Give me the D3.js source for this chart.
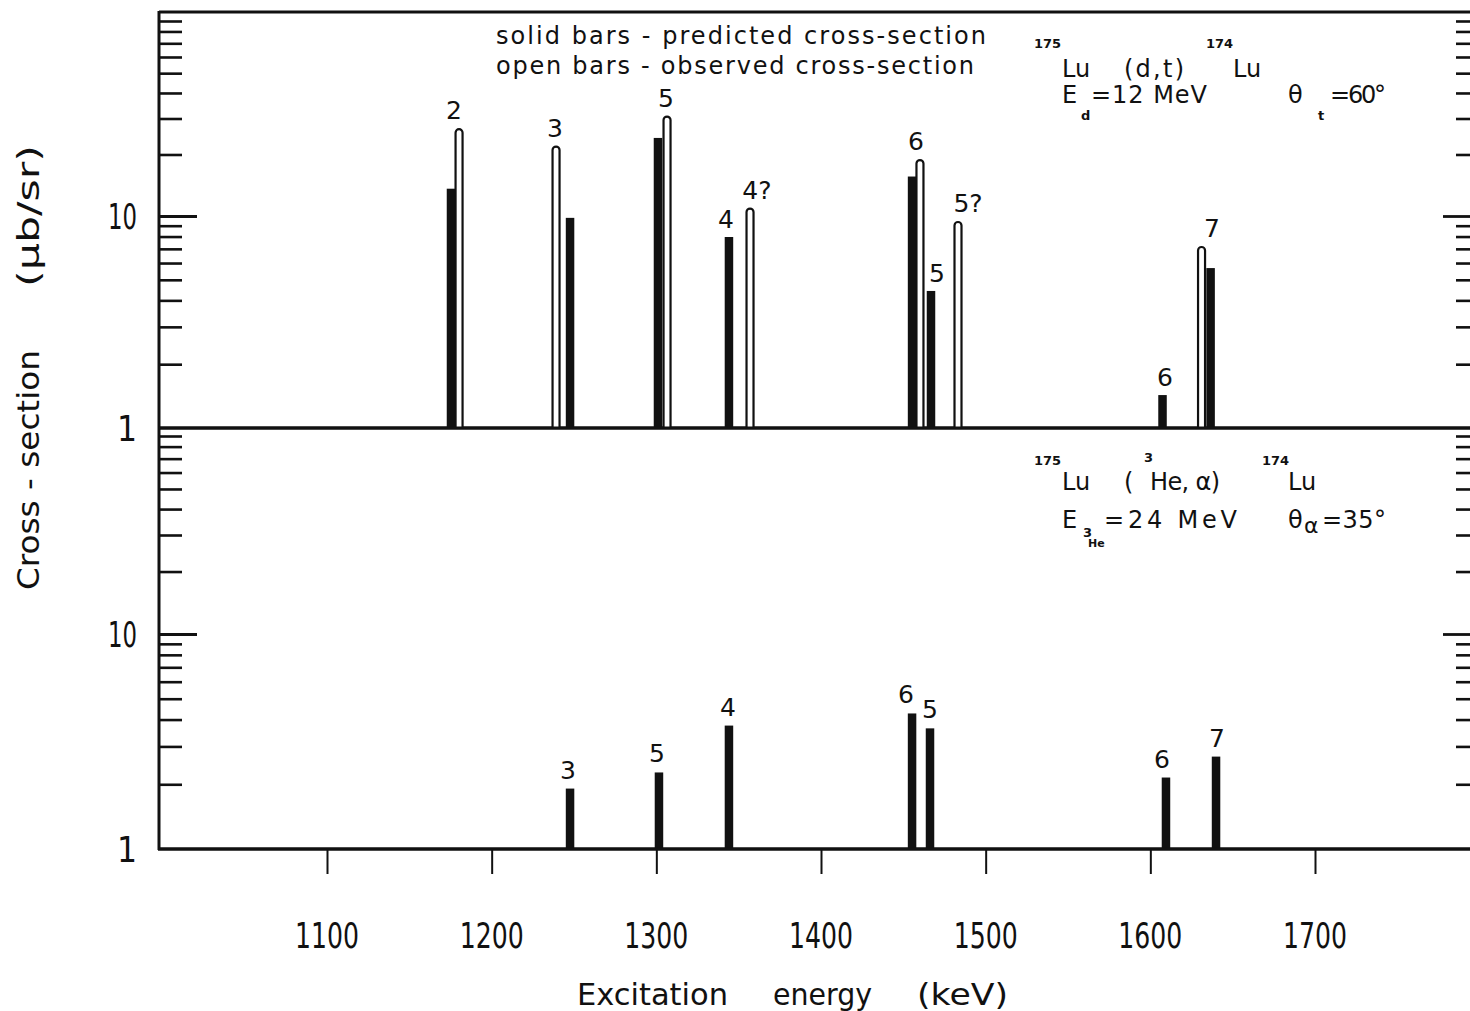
<!DOCTYPE html>
<html><head><meta charset="utf-8">
<script src="https://cdn.jsdelivr.net/npm/d3@7"></script>
<style>body{margin:0;background:#fff}svg{display:block}</style></head>
<body><svg id="c" width="1470" height="1011"></svg>
<script>
// ---------- data ----------
const xTickValues = [1100, 1200, 1300, 1400, 1500, 1600, 1700];
const xTickLabels = ["1100", "1200", "1300", "1400", "1500", "1600", "1700"];
const minorY = [2, 3, 4, 5, 6, 7, 8, 9, 20, 30, 40, 50, 60, 70, 80, 90];
const majorY = [1, 10];
const yTickLabels = ["1", "10"];

// upper panel 175Lu(d,t)174Lu : solid = predicted, open = observed
const predTopE = [1175.3, 1247.6, 1301.0, 1344.1, 1455.3, 1466.8, 1607.4, 1636.6];
const predTopV = [13.6, 9.8, 24.1, 7.96, 15.6, 4.43, 1.43, 5.68];
const obsTopE  = [1180.2, 1239.1, 1306.5, 1356.9, 1460.1, 1483.2, 1631.1];
const obsTopV  = [26.9, 22.1, 31.0, 11.0, 19.0, 9.47, 7.22];
const labTopText = ["2", "3", "5", "4", "4?", "6", "5", "5?", "6", "7"];
const labTopE    = [1177.1, 1238.5, 1305.9, 1342.3, 1361.1, 1457.7, 1470.4, 1489.3, 1608.9, 1637.4];
const labTopV    = [26.9, 22.1, 31.0, 7.96, 11.0, 19.0, 4.43, 9.47, 1.43, 7.22];

// lower panel 175Lu(3He,alpha)174Lu : predicted
const predBotE = [1247.6, 1301.6, 1344.1, 1455.3, 1466.2, 1609.5, 1639.9];
const predBotV = [1.91, 2.27, 3.75, 4.27, 3.64, 2.15, 2.69];
const labBotText = ["3", "5", "4", "6", "5", "6", "7"];
const labBotE    = [1246.4, 1300.4, 1343.5, 1451.6, 1466.2, 1607.1, 1640.5];
const labBotV    = [1.91, 2.27, 3.75, 4.27, 3.64, 2.15, 2.69];

// ---------- layout ----------
const svg = d3.select("#c");
svg.append("rect").attr("width", 1470).attr("height", 1011).attr("fill", "#fff");
const L = 159, R = 1470, T = 12, M = 428, B = 849;
const ink = "#111";
const FONT = "'DejaVu Sans', sans-serif";
const NARROW = "'Liberation Sans Narrow', 'DejaVu Sans Condensed', 'Liberation Sans', sans-serif";

const x = d3.scaleLinear().domain([1100, 1700]).range([327, 1315]);
const yTop = d3.scaleLog().domain([1, 10, 90]).range([M, 216, 21]);
const yBot = d3.scaleLog().domain([1, 10, 90]).range([B, 634, 436]);

// frame
const g = svg.append("g");
g.append("path").attr("d", `M${L},${T}H${R+2}M${L},${T-1}V${B+1}M${L},${M}H${R+2}M${L-1},${B}H${R+2}`)
  .attr("stroke", ink).attr("stroke-width", 3).attr("fill", "none");

// y axes (left and right tick marks) via d3 axes
function yAxes(scale) {
  const left = d3.axisRight(scale).tickValues(minorY).tickSize(23).tickFormat("");
  g.append("g").attr("transform", `translate(${L},0)`).call(left)
    .call(s => s.select(".domain").remove())
    .selectAll("line").attr("stroke", ink).attr("stroke-width", 2.6);
  const leftMaj = d3.axisRight(scale).tickValues([10]).tickSize(38).tickFormat("");
  g.append("g").attr("transform", `translate(${L},0)`).call(leftMaj)
    .call(s => s.select(".domain").remove())
    .selectAll("line").attr("stroke", ink).attr("stroke-width", 2.8);
  const right = d3.axisLeft(scale).tickValues(minorY).tickSize(14).tickFormat("");
  g.append("g").attr("transform", `translate(${R},0)`).call(right)
    .call(s => s.select(".domain").remove())
    .selectAll("line").attr("stroke", ink).attr("stroke-width", 2.6);
  const rightMaj = d3.axisLeft(scale).tickValues([10]).tickSize(27).tickFormat("");
  g.append("g").attr("transform", `translate(${R},0)`).call(rightMaj)
    .call(s => s.select(".domain").remove())
    .selectAll("line").attr("stroke", ink).attr("stroke-width", 2.8);
  // labels
  majorY.forEach((v, i) => {
    const t = yTickLabels[i];
    const e = g.append("text").attr("x", 137).attr("y", scale(v) + 13)
      .attr("text-anchor", "end").attr("font-family", NARROW).attr("font-size", 35)
      .attr("fill", ink).text(t);
    if (t.length > 1) e.attr("textLength", 29).attr("lengthAdjust", "spacingAndGlyphs");
  });
}
yAxes(yTop);
yAxes(yBot);

// x axis ticks below bottom
const xa = d3.axisBottom(x).tickValues(xTickValues).tickSize(25).tickFormat("");
g.append("g").attr("transform", `translate(0,${B})`).call(xa)
  .call(s => s.select(".domain").remove())
  .selectAll("line").attr("stroke", ink).attr("stroke-width", 2);
xTickValues.forEach((v, i) => {
  g.append("text").attr("x", x(v)).attr("y", 948).attr("text-anchor", "middle")
    .attr("font-family", NARROW).attr("font-size", 36)
    .attr("textLength", 64).attr("lengthAdjust", "spacingAndGlyphs")
    .attr("fill", ink).text(xTickLabels[i]);
});

// axis titles
[["Excitation", 577, 151], ["energy", 773, 99], ["(keV)", 917, 91]].forEach(([t, x0, w]) => {
  g.append("text").attr("x", x0).attr("y", 1005).attr("font-family", FONT).attr("font-size", 31)
    .attr("textLength", w).attr("lengthAdjust", "spacingAndGlyphs").attr("fill", ink).text(t);
});
const yt = g.append("g").attr("transform", "translate(39,0) rotate(-90)");
yt.append("text").attr("x", -590).attr("y", 0).attr("font-family", FONT).attr("font-size", 30)
  .attr("textLength", 240).attr("lengthAdjust", "spacingAndGlyphs").attr("fill", ink).text("Cross - section");
yt.append("text").attr("x", -287).attr("y", 0).attr("font-family", FONT).attr("font-size", 30)
  .attr("textLength", 142).attr("lengthAdjust", "spacingAndGlyphs").attr("fill", ink).text("(\u03BCb/sr)");

// bars
const wSolid = 8.5, wOpen = 9;
function solidBars(E, V, scale, base) {
  g.append("g").selectAll("rect").data(E.map((e, i) => [e, V[i]])).join("rect")
    .attr("x", d => x(d[0]) - wSolid / 2).attr("width", wSolid)
    .attr("y", d => scale(d[1])).attr("height", d => base - scale(d[1]))
    .attr("fill", ink);
}
function openBars(E, V, scale, base) {
  g.append("g").selectAll("path").data(E.map((e, i) => [e, V[i]])).join("path")
    .attr("d", d => {
      const x0 = x(d[0]) - wOpen / 2 + 1, x1 = x(d[0]) + wOpen / 2 - 1, t = scale(d[1]) + 1, r = (x1 - x0) / 2;
      return `M${x0},${base}V${t + r}A${r},${r} 0 0 1 ${x1},${t + r}V${base}`;
    })
    .attr("fill", "#fff").attr("stroke", ink).attr("stroke-width", 2.2);
}
solidBars(predTopE, predTopV, yTop, M);
openBars(obsTopE, obsTopV, yTop, M);
solidBars(predBotE, predBotV, yBot, B);
g.append("path").attr("d", `M${L},${M}H${R+2}M${L-1},${B}H${R+2}`).attr("stroke", ink).attr("stroke-width", 3);

function labels(T_, E, V, scale, off) {
  g.append("g").selectAll("text").data(T_.map((t, i) => [t, E[i], V[i]])).join("text")
    .attr("x", d => x(d[1])).attr("y", d => scale(d[2]) - off)
    .attr("text-anchor", "middle").attr("font-family", FONT).attr("font-size", 25)
    .attr("fill", ink).text(d => d[0]);
}
labels(labTopText, labTopE, labTopV, yTop, 9);
labels(labBotText, labBotE, labBotV, yBot, 10);

// legend / annotations
function txt(t, x0, y0, size, opts = {}) {
  const e = g.append("text").attr("x", x0).attr("y", y0).attr("font-family", FONT)
    .attr("font-size", size).attr("fill", ink).text(t);
  if (opts.w) e.attr("textLength", opts.w).attr("lengthAdjust", "spacing");
  if (opts.bold) e.attr("font-weight", "bold");
  return e;
}
txt("solid bars - predicted  cross-section", 496, 44, 24, { w: 490 });
txt("open bars - observed  cross-section", 496, 74, 24, { w: 478 });

txt("175", 1034, 48, 13, { bold: true });
txt("Lu", 1062, 77, 24);
txt("(d,t)", 1124, 77, 24, { w: 60 });
txt("174", 1206, 48, 13, { bold: true });
txt("Lu", 1233, 77, 24);
txt("E", 1062, 103, 24);
txt("d", 1081, 120, 13, { bold: true });
txt("=12  MeV", 1091, 103, 24, { w: 116 });
txt("\u03B8", 1288, 103, 24);
txt("t", 1318, 120, 13, { bold: true });
txt("=60\u00B0", 1330, 103, 24, { w: 56 });

txt("175", 1034, 465, 13, { bold: true });
txt("Lu", 1062, 490, 24);
txt("(", 1124, 490, 24);
txt("3", 1144, 462, 13, { bold: true });
txt("He, \u03B1)", 1150, 490, 24, { w: 70 });
txt("174", 1262, 465, 13, { bold: true });
txt("Lu", 1288, 490, 24);
txt("E", 1062, 528, 24);
txt("3", 1083, 537, 13, { bold: true });
txt("He", 1088, 547, 11, { bold: true });
txt("=24  MeV", 1104, 528, 24, { w: 133 });
txt("\u03B8", 1288, 528, 24);
txt("\u03B1", 1304, 533, 22);
txt("=35\u00B0", 1322, 528, 24, { w: 64 });
</script></body></html>
